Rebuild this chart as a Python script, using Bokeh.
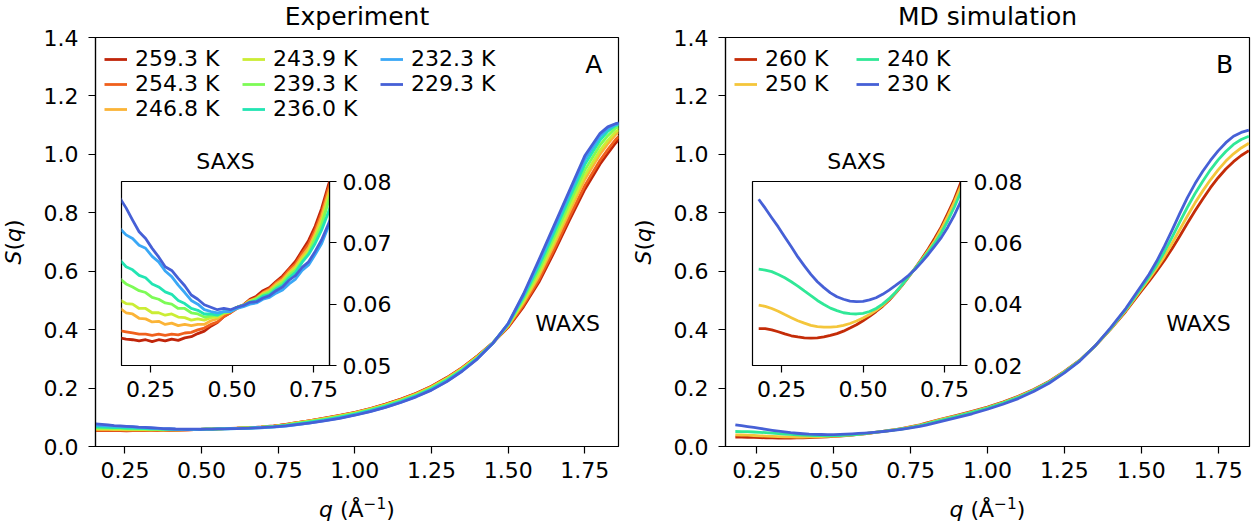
import math

from bokeh.embed import file_html
from bokeh.layouts import row
from bokeh.models import (FixedTicker, Label, Legend, LegendItem,
                          NumeralTickFormatter, Range1d)
from bokeh.plotting import figure
from bokeh.resources import INLINE

# ---------------------------------------------------------------------------
# Experiment: structure factor S(q) of supercooled water, q in 1/Angstrom
# ---------------------------------------------------------------------------
Q_EXP = [0.155, 0.175, 0.195, 0.215, 0.235, 0.255, 0.275, 0.295, 0.315, 0.335,
         0.355, 0.375, 0.395, 0.415, 0.435, 0.455, 0.475, 0.495, 0.515, 0.535,
         0.555, 0.575, 0.595, 0.615, 0.635, 0.655, 0.675, 0.695, 0.715, 0.735,
         0.755, 0.775, 0.795,
         0.85, 0.90, 0.95, 1.00, 1.05, 1.10, 1.15, 1.20, 1.25, 1.30, 1.35, 1.40,
         1.45, 1.50, 1.55, 1.60, 1.65, 1.70, 1.75, 1.80, 1.825, 1.85, 1.87]

EXP_LABELS = ["259.3 K", "254.3 K", "246.8 K", "243.9 K",
              "239.3 K", "236.0 K", "232.3 K", "229.3 K"]

S_EXP_259_3 = [0.0545, 0.0543, 0.0542, 0.0540, 0.0542, 0.0539, 0.0542, 0.0540, 0.0543, 0.0541,
               0.0545, 0.0547, 0.0552, 0.0556, 0.0564, 0.0570, 0.0580, 0.0586, 0.0595, 0.0599,
               0.0608, 0.0613, 0.0622, 0.0627, 0.0637, 0.0646, 0.0658, 0.0670, 0.0687, 0.0704,
               0.0727, 0.0756, 0.0793,
               0.0880, 0.0968, 0.1064, 0.1170, 0.1300, 0.1450, 0.1620, 0.1820, 0.2060, 0.2360,
               0.2700, 0.3100, 0.3550, 0.408, 0.478, 0.562, 0.665, 0.775, 0.880, 0.967, 1.003,
               1.038, 1.062]
S_EXP_254_3 = [0.0557, 0.0555, 0.0553, 0.0551, 0.0551, 0.0549, 0.0551, 0.0549, 0.0551, 0.0550,
               0.0553, 0.0554, 0.0558, 0.0561, 0.0567, 0.0571, 0.0580, 0.0586, 0.0593, 0.0598,
               0.0606, 0.0611, 0.0619, 0.0625, 0.0635, 0.0643, 0.0656, 0.0666, 0.0683, 0.0698,
               0.0721, 0.0749, 0.0787,
               0.0874, 0.0961, 0.1057, 0.1163, 0.1292, 0.1442, 0.1612, 0.1811, 0.2051, 0.2350,
               0.2690, 0.3090, 0.3548, 0.410, 0.484, 0.570, 0.675, 0.786, 0.893, 0.980, 1.016,
               1.050, 1.071]
S_EXP_246_8 = [0.0594, 0.0586, 0.0584, 0.0577, 0.0576, 0.0571, 0.0572, 0.0567, 0.0569, 0.0565,
               0.0567, 0.0565, 0.0567, 0.0567, 0.0573, 0.0576, 0.0584, 0.0588, 0.0595, 0.0598,
               0.0606, 0.0609, 0.0618, 0.0623, 0.0633, 0.0640, 0.0652, 0.0662, 0.0678, 0.0692,
               0.0715, 0.0743, 0.0780,
               0.0866, 0.0952, 0.1047, 0.1152, 0.1280, 0.1428, 0.1597, 0.1795, 0.2034, 0.2332,
               0.2672, 0.3074, 0.3545, 0.413, 0.492, 0.583, 0.691, 0.804, 0.914, 1.001, 1.036,
               1.067, 1.084]
S_EXP_243_9 = [0.0607, 0.0601, 0.0600, 0.0593, 0.0593, 0.0586, 0.0586, 0.0582, 0.0584, 0.0579,
               0.0578, 0.0574, 0.0576, 0.0574, 0.0578, 0.0579, 0.0586, 0.0588, 0.0595, 0.0598,
               0.0604, 0.0609, 0.0616, 0.0620, 0.0630, 0.0637, 0.0649, 0.0659, 0.0674, 0.0687,
               0.0710, 0.0735, 0.0773,
               0.0858, 0.0943, 0.1038, 0.1143, 0.1270, 0.1417, 0.1585, 0.1782, 0.2020, 0.2317,
               0.2658, 0.3062, 0.3542, 0.415, 0.498, 0.592, 0.702, 0.817, 0.928, 1.014, 1.048,
               1.077, 1.091]
S_EXP_239_3 = [0.0642, 0.0633, 0.0628, 0.0622, 0.0619, 0.0611, 0.0608, 0.0602, 0.0600, 0.0593,
               0.0593, 0.0586, 0.0584, 0.0579, 0.0581, 0.0582, 0.0586, 0.0588, 0.0595, 0.0598,
               0.0604, 0.0609, 0.0615, 0.0620, 0.0628, 0.0635, 0.0647, 0.0656, 0.0670, 0.0683,
               0.0707, 0.0729, 0.0766,
               0.0848, 0.0932, 0.1026, 0.1130, 0.1256, 0.1402, 0.1569, 0.1765, 0.2002, 0.2298,
               0.2640, 0.3046, 0.3538, 0.417, 0.505, 0.604, 0.717, 0.834, 0.946, 1.032, 1.064,
               1.089, 1.099]
S_EXP_236_0 = [0.0673, 0.0661, 0.0656, 0.0647, 0.0643, 0.0633, 0.0628, 0.0620, 0.0616, 0.0606,
               0.0601, 0.0593, 0.0590, 0.0584, 0.0584, 0.0582, 0.0588, 0.0588, 0.0595, 0.0598,
               0.0603, 0.0606, 0.0613, 0.0616, 0.0625, 0.0631, 0.0643, 0.0652, 0.0668, 0.0681,
               0.0699, 0.0721, 0.0749,
               0.0830, 0.0914, 0.1008, 0.1112, 0.1236, 0.1381, 0.1546, 0.1740, 0.1975, 0.2270,
               0.2615, 0.3026, 0.3535, 0.419, 0.512, 0.617, 0.733, 0.851, 0.965, 1.049, 1.079,
               1.098, 1.105]
S_EXP_232_3 = [0.0724, 0.0713, 0.0707, 0.0696, 0.0691, 0.0678, 0.0669, 0.0654, 0.0645, 0.0631,
               0.0619, 0.0606, 0.0600, 0.0591, 0.0588, 0.0586, 0.0588, 0.0588, 0.0593, 0.0596,
               0.0600, 0.0602, 0.0608, 0.0611, 0.0618, 0.0623, 0.0633, 0.0641, 0.0655, 0.0664,
               0.0681, 0.0699, 0.0726,
               0.0803, 0.0882, 0.0975, 0.1080, 0.1205, 0.1350, 0.1515, 0.1710, 0.1942, 0.2232,
               0.2590, 0.3010, 0.3532, 0.420, 0.518, 0.629, 0.747, 0.866, 0.982, 1.063, 1.088,
               1.102, 1.107]
S_EXP_229_3 = [0.0774, 0.0757, 0.0737, 0.0718, 0.0707, 0.0691, 0.0677, 0.0661, 0.0655, 0.0642,
               0.0630, 0.0615, 0.0608, 0.0599, 0.0595, 0.0591, 0.0593, 0.0591, 0.0595, 0.0598,
               0.0603, 0.0604, 0.0610, 0.0614, 0.0622, 0.0628, 0.0639, 0.0647, 0.0660, 0.0669,
               0.0686, 0.0705, 0.0730,
               0.0800, 0.0875, 0.0965, 0.1070, 0.1195, 0.1340, 0.1505, 0.1700, 0.1930, 0.2220,
               0.2575, 0.3000, 0.3530, 0.421, 0.522, 0.638, 0.757, 0.876, 0.995, 1.072, 1.094,
               1.105, 1.109]

EXP_SERIES = [S_EXP_259_3, S_EXP_254_3, S_EXP_246_8, S_EXP_243_9,
              S_EXP_239_3, S_EXP_236_0, S_EXP_232_3, S_EXP_229_3]
EXP_COLORS = ["#c0250a", "#f0601c", "#fbb437", "#cbed35",
              "#7dfb56", "#22e5b3", "#3aa8f6", "#4660d6"]

# ---------------------------------------------------------------------------
# MD simulation
# ---------------------------------------------------------------------------
Q_SIM = [0.18, 0.20, 0.22, 0.24, 0.26, 0.28, 0.30, 0.32, 0.34, 0.36,
         0.38, 0.40, 0.42, 0.44, 0.46, 0.48, 0.50, 0.52, 0.54, 0.56,
         0.58, 0.60, 0.62, 0.64, 0.66, 0.68, 0.70, 0.72, 0.74, 0.76,
         0.78, 0.80,
         0.85, 0.90, 0.95, 1.00, 1.05, 1.10, 1.15, 1.20, 1.25, 1.30, 1.35, 1.40,
         1.45, 1.50, 1.525, 1.55, 1.575, 1.60, 1.625, 1.65, 1.675, 1.70, 1.725,
         1.75, 1.775, 1.80, 1.825, 1.85]

SIM_LABELS = ["260 K", "250 K", "240 K", "230 K"]

S_SIM_260 = [0.0320, 0.0320, 0.0316, 0.0310, 0.0303, 0.0297, 0.0293, 0.0290, 0.0289, 0.0290,
             0.0293, 0.0298, 0.0304, 0.0312, 0.0322, 0.0333, 0.0346, 0.0360, 0.0376, 0.0393,
             0.0413, 0.0436, 0.0461, 0.0489, 0.0518, 0.0548, 0.0580, 0.0615, 0.0652, 0.0696,
             0.0742, 0.0797,
             0.0940, 0.1065, 0.1200, 0.1350, 0.1520, 0.1715, 0.1950, 0.2225, 0.2570, 0.2955,
             0.3440, 0.4010, 0.4630, 0.5320, 0.565, 0.600, 0.637, 0.677, 0.720, 0.764, 0.807,
             0.847, 0.886, 0.920, 0.950, 0.975, 0.996, 1.013]
S_SIM_250 = [0.0397, 0.0393, 0.0386, 0.0377, 0.0366, 0.0356, 0.0346, 0.0338, 0.0331, 0.0327,
             0.0325, 0.0325, 0.0327, 0.0331, 0.0337, 0.0345, 0.0355, 0.0366, 0.0380, 0.0396,
             0.0416, 0.0438, 0.0463, 0.0490, 0.0517, 0.0545, 0.0575, 0.0607, 0.0645, 0.0687,
             0.0733, 0.0784,
             0.0925, 0.1050, 0.1185, 0.1335, 0.1505, 0.1700, 0.1935, 0.2212, 0.2558, 0.2948,
             0.3440, 0.4020, 0.4660, 0.5380, 0.573, 0.610, 0.650, 0.695, 0.742, 0.789, 0.834,
             0.875, 0.913, 0.947, 0.977, 1.002, 1.022, 1.038]
S_SIM_240 = [0.0514, 0.0511, 0.0506, 0.0497, 0.0486, 0.0473, 0.0459, 0.0443, 0.0428, 0.0412,
             0.0399, 0.0387, 0.0379, 0.0372, 0.0369, 0.0368, 0.0370, 0.0376, 0.0386, 0.0400,
             0.0418, 0.0439, 0.0464, 0.0491, 0.0517, 0.0543, 0.0570, 0.0599, 0.0632, 0.0672,
             0.0716, 0.0766,
             0.0905, 0.1030, 0.1165, 0.1315, 0.1485, 0.1680, 0.1918, 0.2196, 0.2545, 0.2940,
             0.3442, 0.4035, 0.4690, 0.5430, 0.580, 0.620, 0.666, 0.716, 0.768, 0.819, 0.866,
             0.908, 0.947, 0.981, 1.010, 1.034, 1.051, 1.062]
S_SIM_230 = [0.0742, 0.0713, 0.0682, 0.0652, 0.0619, 0.0587, 0.0554, 0.0525, 0.0497, 0.0473,
             0.0454, 0.0437, 0.0424, 0.0416, 0.0410, 0.0408, 0.0409, 0.0414, 0.0421, 0.0432,
             0.0446, 0.0461, 0.0477, 0.0494, 0.0514, 0.0537, 0.0562, 0.0589, 0.0617, 0.0651,
             0.0690, 0.0735,
             0.0860, 0.0985, 0.1120, 0.1275, 0.1445, 0.1640, 0.1880, 0.2165, 0.2520, 0.2925,
             0.3445, 0.4060, 0.4730, 0.5500, 0.589, 0.634, 0.685, 0.740, 0.797, 0.852, 0.900,
             0.942, 0.979, 1.012, 1.040, 1.062, 1.075, 1.083]

SIM_SERIES = [S_SIM_260, S_SIM_250, S_SIM_240, S_SIM_230]
SIM_COLORS = ["#c42c08", "#f4c63b", "#30e897", "#4660d6"]

# ---------------------------------------------------------------------------
# Axis ticks
# ---------------------------------------------------------------------------
MAIN_X_TICKS = [0.25, 0.50, 0.75, 1.00, 1.25, 1.50, 1.75]
MAIN_Y_TICKS = [0.0, 0.2, 0.4, 0.6, 0.8, 1.0, 1.2, 1.4]
INSET_X_TICKS = [0.25, 0.50, 0.75]
INSET_Y_TICKS_EXP = [0.05, 0.06, 0.07, 0.08]
INSET_Y_TICKS_SIM = [0.02, 0.04, 0.06, 0.08]

# ---------------------------------------------------------------------------
# Page layout (pixels)
# ---------------------------------------------------------------------------
PAGE_W, PAGE_H = 1255, 524
FRAME_TOP, FRAME_BOTTOM = 37, 446
A_LEFT, A_RIGHT = 95, 618
B_LEFT, B_RIGHT = 725, 1249
INSET_TOP, INSET_BOTTOM = 181, 365
INSET_A_LEFT, INSET_B_LEFT = 121, 752
INSET_W = 208

FONT = "DejaVu Sans"
BASE_PX, BIG_PX = 22, 25
LW = 2.8


def style_axis(ax, ticks, fmt, standoff=8):
    ax.ticker = FixedTicker(ticks=ticks)
    ax.formatter = NumeralTickFormatter(format=fmt)
    ax.major_tick_out = 7
    ax.major_tick_in = 0
    ax.minor_tick_out = 0
    ax.minor_tick_in = 0
    ax.major_tick_line_width = 1.2
    ax.major_tick_line_color = "black"
    ax.axis_line_width = 1.2
    ax.axis_line_color = "black"
    ax.major_label_text_font = FONT
    ax.major_label_text_font_size = f"{BASE_PX}px"
    ax.major_label_text_color = "black"
    ax.major_label_standoff = standoff


def add_text(p, s, x, y, size=BASE_PX, align="left", baseline="alphabetic",
             xo=0.0, yo=0.0, angle=0.0, style="normal"):
    # lift the glyphs so that the anchor sits on the drawn baseline
    lift = 0.32 * size
    if angle:
        xo -= lift
    else:
        yo += lift
    p.add_layout(Label(x=x, y=y, x_offset=xo, y_offset=yo, text=s,
                       text_font=FONT, text_font_size=f"{size}px", text_font_style=style,
                       text_align=align, text_baseline=baseline, angle=angle,
                       text_color="black"))


def main_panel(xr, left, right, tag, q, series, labels, colors, label_width, nrows):
    width = left + (A_RIGHT - A_LEFT if tag == "A" else B_RIGHT - B_LEFT) + right
    p = figure(width=width, height=PAGE_H, x_range=Range1d(*xr), y_range=Range1d(0.0, 1.4),
               output_backend="svg", toolbar_location=None,
               min_border_left=left, min_border_right=right,
               min_border_top=FRAME_TOP, min_border_bottom=PAGE_H - FRAME_BOTTOM)
    p.grid.visible = False
    p.outline_line_color = "black"
    p.outline_line_width = 1.2
    p.outline_line_alpha = 1.0
    style_axis(p.xaxis[0], MAIN_X_TICKS, "0.00", standoff=8)
    style_axis(p.yaxis[0], MAIN_Y_TICKS, "0.0", standoff=10)

    items = []
    for vals, lab, col in zip(series, labels, colors):
        r = p.line(q, vals, line_color=col, line_width=LW, line_join="round")
        items.append(LegendItem(label=lab, renderers=[r]))
    leg = Legend(items=items, location="top_left", orientation="vertical",
                 ncols=3, nrows=nrows,
                 margin=4, padding=5, spacing=-1, glyph_width=23, glyph_height=20,
                 label_standoff=8, label_width=label_width, label_height=20,
                 label_text_font=FONT, label_text_font_size=f"{BASE_PX}px",
                 label_text_color="black",
                 border_line_alpha=0.0, background_fill_alpha=0.0)
    p.add_layout(leg)

    span = xr[1] - xr[0]
    add_text(p, tag, xr[0] + 0.969 * span, 1.279, size=BIG_PX, align="right")
    add_text(p, "WAXS", xr[0] + 0.841 * span, 0.398)
    return p


def inset_panel(q, series, colors, yr, yticks, left_px):
    top_border, bottom_border = 36, 44
    p = figure(width=5 + INSET_W + 70, height=top_border + (INSET_BOTTOM - INSET_TOP) + bottom_border,
               x_range=Range1d(0.161, 0.799), y_range=Range1d(*yr), y_axis_location="right",
               output_backend="svg", toolbar_location=None, title=None,
               min_border_left=5, min_border_right=70,
               min_border_top=top_border, min_border_bottom=bottom_border,
               background_fill_color="white", border_fill_alpha=0.0)
    p.frame_align = False
    p.grid.visible = False
    p.outline_line_color = "black"
    p.outline_line_width = 1.2
    p.outline_line_alpha = 1.0
    style_axis(p.xaxis[0], INSET_X_TICKS, "0.00", standoff=8)
    style_axis(p.yaxis[0], yticks, "0.00", standoff=6)
    for vals, col in zip(series, colors):
        p.line(q, vals, line_color=col, line_width=LW, line_join="round")
    p.styles = {"position": "absolute", "left": f"{left_px - 5}px",
                "top": f"{INSET_TOP - top_border}px"}
    return p


pa = main_panel((0.154, 1.86), A_LEFT, 640 - A_RIGHT, "A", Q_EXP, EXP_SERIES,
                EXP_LABELS, EXP_COLORS, 107, 3)
pb = main_panel((0.148, 1.852), B_LEFT - 640, PAGE_W - B_RIGHT, "B", Q_SIM, SIM_SERIES,
                SIM_LABELS, SIM_COLORS, 91, 2)

ia = inset_panel(Q_EXP, EXP_SERIES, EXP_COLORS, (0.05, 0.08), INSET_Y_TICKS_EXP, INSET_A_LEFT)
ib = inset_panel(Q_SIM, SIM_SERIES, SIM_COLORS, (0.02, 0.08), INSET_Y_TICKS_SIM, INSET_B_LEFT)

# Transparent sheet over the whole page for titles and axis labels
ov = figure(width=PAGE_W, height=PAGE_H, x_range=Range1d(0, PAGE_W),
            y_range=Range1d(PAGE_H, 0), x_axis_type=None, y_axis_type=None,
            output_backend="svg", toolbar_location=None, title=None,
            min_border=0, background_fill_alpha=0.0, border_fill_alpha=0.0,
            outline_line_color=None)
ov.frame_align = False
ov.styles = {"position": "absolute", "left": "0px", "top": "0px"}

SUP_PX = 15.4
for (left, right) in [(A_LEFT, A_RIGHT), (B_LEFT, B_RIGHT)]:
    cx = 0.5 * (left + right)
    # x label: q (Å^-1)
    add_text(ov, "q", cx, 516, xo=-38.0, style="italic")
    add_text(ov, "(Å", cx, 516, xo=-17.0)
    add_text(ov, "\u22121", cx, 516, xo=6.6, yo=9, size=SUP_PX)
    add_text(ov, ")", cx, 516, xo=29.3)
    # y label: S(q), rotated
    cy = 0.5 * (FRAME_TOP + FRAME_BOTTOM)
    for s, off, st in [("S", -22.6, "italic"), ("(", -8.6, "normal"),
                       ("q", 0.0, "italic"), (")", 14.0, "normal")]:
        add_text(ov, s, left - 75, cy, yo=off, angle=math.pi / 2,
                 baseline="middle", style=st)

add_text(ov, "Experiment", 0.5 * (A_LEFT + A_RIGHT), 24, size=BIG_PX, align="center")
add_text(ov, "MD simulation", 0.5 * (B_LEFT + B_RIGHT), 24, size=BIG_PX, align="center")
for left in (INSET_A_LEFT, INSET_B_LEFT):
    add_text(ov, "SAXS", left + INSET_W / 2, 168, align="center")

layout = row(pa, pb, ia, ib, ov)

open("out.html", "w").write(file_html(layout, INLINE))
